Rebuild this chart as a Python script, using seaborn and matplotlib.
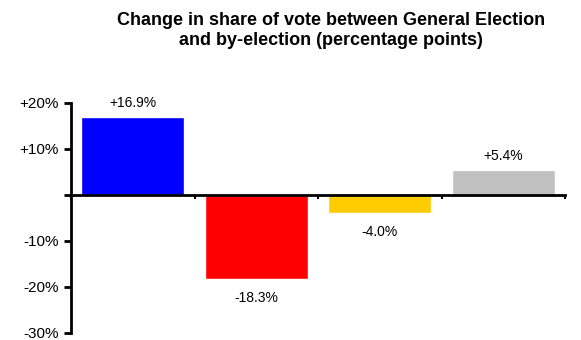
import seaborn as sns
import matplotlib.pyplot as plt
import pandas as pd

# change in vote share (percentage points)
parties = ["Conservative", "Labour", "Liberal Democrat", "Other"]
changes = [16.9, -18.3, -4.0, 5.4]
colors = ["#0000FF", "#FF0000", "#FFCC00", "#C0C0C0"]
ytick_vals = [20, 10, 0, -10, -20, -30]
ytick_labels = ["+20%", "+10%", "", "-10%", "-20%", "-30%"]

df = pd.DataFrame({"party": parties, "change": changes})

sns.set_style("white")
plt.rcParams["font.family"] = ["Liberation Sans", "DejaVu Sans"]
plt.rcParams["text.color"] = "black"
plt.rcParams["xtick.color"] = "black"
plt.rcParams["ytick.color"] = "black"

fig = plt.figure(figsize=(5.81, 3.4), dpi=100)
ax = fig.add_axes([71 / 581, 1 - 333 / 340, (565 - 71) / 581, (333 - 103) / 340])

sns.barplot(data=df, x="party", y="change", hue="party", palette=colors,
            legend=False, width=0.83, saturation=1, ax=ax)

ax.set_ylim(-30, 20)
ax.set_xlim(-0.5, 3.5)
ax.set_yticks(ytick_vals)
ax.set_yticklabels(ytick_labels, fontsize=11)
ax.set_xticks([])
ax.set_xticks([-0.5, 0.5, 1.5, 2.5, 3.5], minor=True)
ax.tick_params(axis="x", which="minor", bottom=True, direction="out", length=3, width=1.5, color="black")
ax.tick_params(axis="y", left=True, direction="out", length=5, width=2, color="black", pad=4)
ax.set_xlabel("")
ax.set_ylabel("")

ax.spines["top"].set_visible(False)
ax.spines["right"].set_visible(False)
ax.spines["bottom"].set_position(("data", 0))
ax.spines["left"].set_linewidth(2)
ax.spines["bottom"].set_linewidth(2)
ax.spines["left"].set_color("black")
ax.spines["bottom"].set_color("black")

for i, v in enumerate(changes):
    txt = f"{v:+.1f}%"
    if v >= 0:
        ax.text(i, v + 1.5, txt, ha="center", va="bottom", fontsize=10)
    else:
        ax.text(i, v - 2.5, txt, ha="center", va="top", fontsize=10)

fig.text(331 / 581, 0.965, "Change in share of vote between General Election\nand by-election (percentage points)",
         ha="center", va="top", fontsize=13, fontweight="bold", linespacing=1.25)

fig.savefig("out.png", dpi=100)
